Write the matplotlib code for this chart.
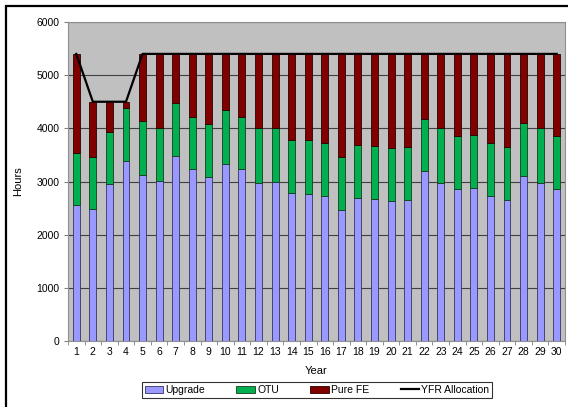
import matplotlib.pyplot as plt
from matplotlib.patches import Rectangle
import numpy as np

years = list(range(1, 31))
upgrade = [2550, 2480, 2950, 3380, 3130, 3010, 3480, 3230, 3090, 3330,
           3230, 2980, 2990, 2780, 2770, 2730, 2460, 2690, 2670, 2630,
           2660, 3190, 2980, 2860, 2870, 2730, 2660, 3100, 2980, 2850]
otu_top = [3540, 3470, 3940, 4380, 4130, 4000, 4480, 4210, 4080, 4340,
           4210, 4000, 4000, 3780, 3780, 3730, 3460, 3680, 3660, 3630,
           3650, 4180, 4000, 3850, 3870, 3720, 3650, 4100, 4000, 3850]
yfr = [5400, 4500, 4500, 4500] + [5400] * 26

otu = [t - u for t, u in zip(otu_top, upgrade)]
pure_fe = [a - t for a, t in zip(yfr, otu_top)]

plt.rcParams['font.family'] = ['Liberation Sans', 'DejaVu Sans']

fig = plt.figure(figsize=(5.68, 4.07), dpi=100)
ax = fig.add_axes([68/568, 66/407, (565-68)/568, (341-22)/407])
ax.set_facecolor('#C0C0C0')

w = 0.42
b1 = ax.bar(years, upgrade, w, color='#9999FF', edgecolor='#333366', linewidth=0.6, label='Upgrade', zorder=3)
b2 = ax.bar(years, otu, w, bottom=upgrade, color='#00B050', edgecolor='#1a3a1a', linewidth=0.6, label='OTU', zorder=3)
b3 = ax.bar(years, pure_fe, w, bottom=otu_top, color='#800000', edgecolor='#2a0000', linewidth=0.6, label='Pure FE', zorder=3)
ln, = ax.plot(years, yfr, color='black', linewidth=1.6, label='YFR Allocation', zorder=4)

ax.set_xlim(0.5, 30.5)
ax.set_ylim(0, 6000)
ax.set_yticks(range(0, 6001, 1000))
ax.set_xticks(years)
ax.set_xticks(np.arange(0.5, 31, 1), minor=True)
ax.tick_params(axis='x', which='major', length=0, labelsize=7.5, pad=4)
ax.tick_params(axis='x', which='minor', length=3, color='#808080', direction='out')
ax.tick_params(axis='y', length=3, color='#808080', labelsize=7.5, pad=3)
ax.grid(axis='y', color='#404040', linewidth=0.8, zorder=1)
ax.set_axisbelow(True)
for s in ax.spines.values():
    s.set_color('#909090')
    s.set_linewidth(0.8)

ax.set_xlabel('Year', fontsize=8, labelpad=7)
ax.set_ylabel('Hours', fontsize=8, labelpad=10)

leg = fig.legend([b1, b2, b3, ln], ['Upgrade', 'OTU', 'Pure FE', 'YFR Allocation'],
                 loc='center', bbox_to_anchor=(317/568, 17/407), ncol=4, fontsize=7.5,
                 frameon=True, fancybox=False, handlelength=1.8, handleheight=0.7,
                 handletextpad=0.2, columnspacing=3.0, borderpad=0.25, borderaxespad=0)
leg.get_frame().set_edgecolor('black')
leg.get_frame().set_linewidth(0.8)

fig.patches.append(Rectangle((6/568, -0.1), 1.2, (407-6)/407 + 0.1, transform=fig.transFigure,
                             fill=False, edgecolor='black', linewidth=1.6))

fig.savefig('out.png', dpi=100)
